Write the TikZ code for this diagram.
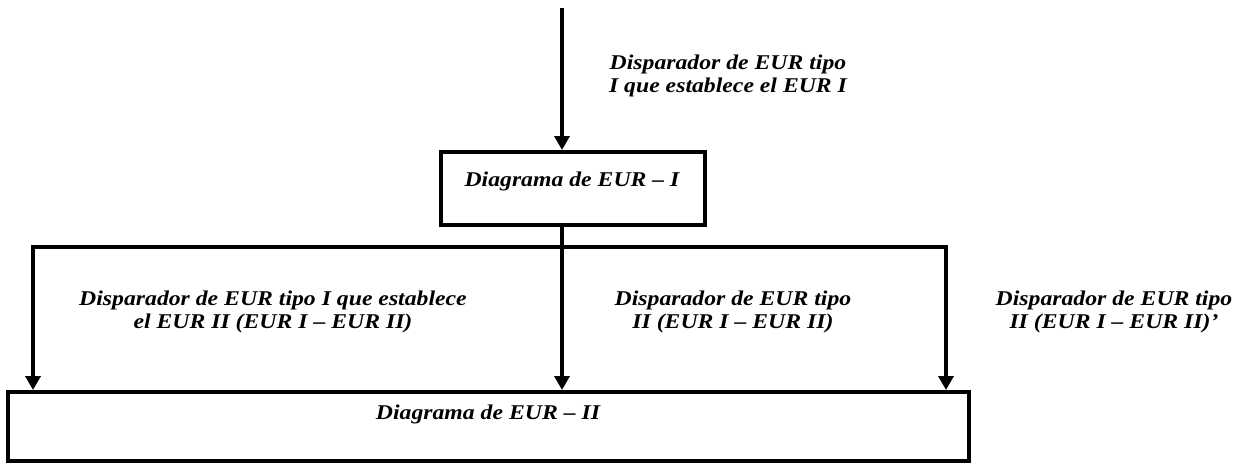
\documentclass[tikz,border=0pt]{standalone}
\usepackage{fontspec}
\newfontfamily\lblfont[FakeStretch=1.13, Ligatures=TeX]{Liberation Serif}
\usepackage{tikz}
\usetikzlibrary{arrows.meta,positioning,calc}
\tikzset{
  >={Triangle[width=15pt,length=14pt]},
  diag box/.style={rectangle, draw, line width=4pt, inner sep=0pt},
  flow/.style={line width=3.5pt, line join=miter},
  lbl/.style={font=\lblfont\bfseries\itshape\fontsize{21}{22.5}\selectfont, align=center, inner sep=0pt}
}
\begin{document}
\begin{tikzpicture}[x=1pt, y=-1pt]
\useasboundingbox (0,0) rectangle (1244,463);

% --- Boxes ---
\node[diag box, minimum width=264pt, minimum height=73pt] (eurI) at (573,188.5) {};
\node[lbl, anchor=base] (eurItxt) at (572,186) {Diagrama de EUR -- I};

\node[diag box, minimum width=961pt, minimum height=69pt] (eurII) at (488.5,426.5) {};
\node[lbl, anchor=base] (eurIItxt) at (488,419) {Diagrama de EUR -- II};

% --- Trigger into EUR I ---
\coordinate (src) at (562,8);
\draw[flow, ->] (src) -- (src |- eurI.north);
\node[lbl] (trgI) at (728,76) {Disparador de EUR tipo\\I que establece el EUR I};

% --- Bus towards EUR II ---
\coordinate (busL) at (33,247);
\coordinate (busR) at (946,247);
\draw[flow, <->] (eurII.north -| busL) -- (busL) -- (busR) -- (busR |- eurII.north);
\draw[flow, ->] (eurI.south -| src) -- (eurII.north -| src);

% Trigger labels
\node[lbl] (trgA) at (273,312) {Disparador de EUR tipo I que establece\\el EUR II (EUR I -- EUR II)};
\node[lbl] (trgB) at (733,312) {Disparador de EUR tipo\\II (EUR I -- EUR II)};
\node[lbl] (trgC) at (1114,312) {Disparador de EUR tipo\\II (EUR I -- EUR II)'};

\end{tikzpicture}
\end{document}
